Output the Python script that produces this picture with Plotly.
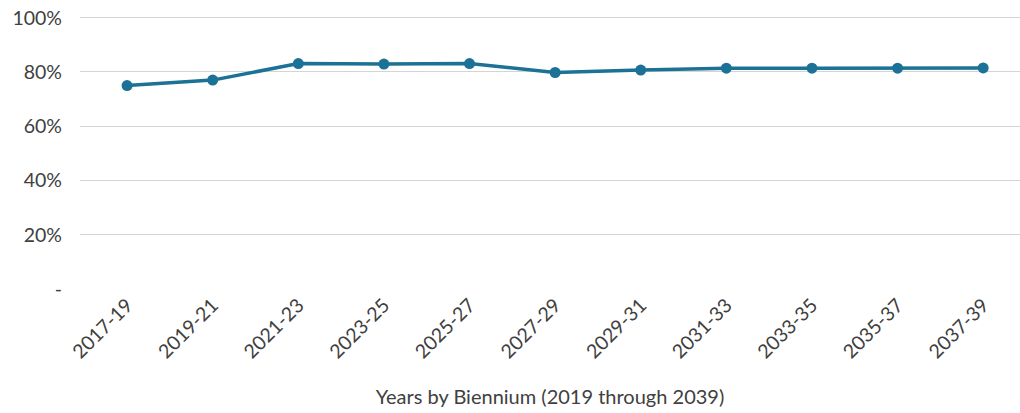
import plotly.graph_objects as go

categories = ["2017-19", "2019-21", "2021-23", "2023-25", "2025-27", "2027-29",
              "2029-31", "2031-33", "2033-35", "2035-37", "2037-39"]
values = [0.75, 0.77, 0.831, 0.829, 0.831, 0.798, 0.807, 0.814, 0.814, 0.814, 0.815]
y_ticks = [0, 0.2, 0.4, 0.6, 0.8, 1.0]
y_tick_labels = ["-", "20%", "40%", "60%", "80%", "100%"]
x_title = "Years by Biennium (2019 through 2039)"

line_color = "#1b7196"
text_color = "#404040"

fig = go.Figure()
fig.add_trace(go.Scatter(
    x=categories, y=values, mode="lines+markers",
    line=dict(color=line_color, width=3.5),
    marker=dict(color=line_color, size=11),
    showlegend=False,
    cliponaxis=False,
))

fig.update_layout(
    width=1020, height=413,
    margin=dict(l=80, r=0, t=15, b=124),
    paper_bgcolor="white", plot_bgcolor="white",
    font=dict(family="Lato", color=text_color, size=19),
    xaxis=dict(
        type="category",
        range=[-0.55, 10.43],
        tickangle=-45,
        tickfont=dict(size=19.5, color=text_color),
        showgrid=False, zeroline=False, showline=False,
        ticks="", automargin=False,
        title=dict(text=x_title, font=dict(size=20, color=text_color), standoff=28),
    ),
    yaxis=dict(
        range=[0, 1.01],
        tickvals=y_ticks, ticktext=y_tick_labels,
        tickfont=dict(size=19.5, color=text_color),
        showgrid=True, gridcolor="#d4d4d4", gridwidth=1.3,
        zeroline=False, showline=False, ticks="",
        ticklabelstandoff=17, automargin=False,
        ticklabeloverflow="allow",
    ),
)

fig.write_html(
    "out.html",
    config={"displayModeBar": False},
    post_script="document.body.style.margin='0';document.body.style.padding='0';",
)
